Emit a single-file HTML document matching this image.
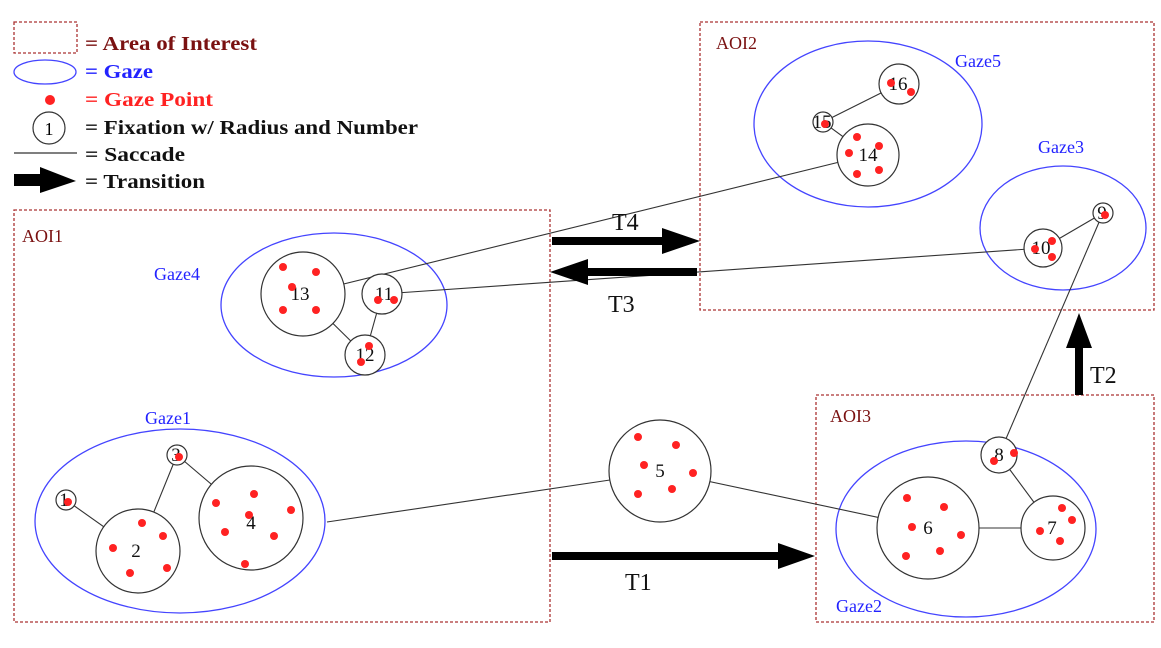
<!DOCTYPE html>
<html><head><style>body{margin:0;background:#fff}svg{display:block}</style></head><body>
<svg width="1161" height="648" viewBox="0 0 1161 648" xmlns="http://www.w3.org/2000/svg" font-family="Liberation Serif, serif">
<g fill="none" stroke="#a33" stroke-width="1.3" stroke-dasharray="3,2">
<rect x="14" y="22" width="63" height="31"/>
<rect x="14" y="210" width="536" height="412"/>
<rect x="700" y="22" width="454" height="288"/>
<rect x="816" y="395" width="338" height="227"/>
</g>
<ellipse cx="45" cy="72" rx="31" ry="12" fill="none" stroke="#44f" stroke-width="1.3"/>
<circle cx="50" cy="100" r="5" fill="#f22"/>
<circle cx="49" cy="128" r="16" fill="none" stroke="#333" stroke-width="1.2"/>
<text x="49" y="135" font-size="18" text-anchor="middle">1</text>
<line x1="14" y1="153" x2="77" y2="153" stroke="#333" stroke-width="1.2"/>
<polygon points="14,174 40,174 40,167 76,181 40,193 40,186 14,186" fill="#000"/>
<g font-size="20" font-weight="bold">
<text x="85" y="50" fill="#7a1111" textLength="172" lengthAdjust="spacingAndGlyphs">= Area of Interest</text>
<text x="85" y="78" fill="#22f" textLength="68" lengthAdjust="spacingAndGlyphs">= Gaze</text>
<text x="85" y="106" fill="#f22" textLength="128" lengthAdjust="spacingAndGlyphs">= Gaze Point</text>
<text x="85" y="134" fill="#111" textLength="333" lengthAdjust="spacingAndGlyphs">= Fixation w/ Radius and Number</text>
<text x="85" y="161" fill="#111" textLength="100" lengthAdjust="spacingAndGlyphs">= Saccade</text>
<text x="85" y="188" fill="#111" textLength="120" lengthAdjust="spacingAndGlyphs">= Transition</text>
</g>
<g font-size="18" fill="#7a1111"><text x="22" y="242">AOI1</text><text x="716" y="49">AOI2</text><text x="830" y="422">AOI3</text></g>
<g font-size="18" fill="#22f"><text x="145" y="424">Gaze1</text><text x="154" y="280">Gaze4</text><text x="955" y="67">Gaze5</text><text x="1038" y="153">Gaze3</text><text x="836" y="612">Gaze2</text></g>
<g fill="none" stroke="#44f" stroke-width="1.3">
<ellipse cx="180" cy="521" rx="145" ry="92"/>
<ellipse cx="334" cy="305" rx="113" ry="72"/>
<ellipse cx="868" cy="124" rx="114" ry="83"/>
<ellipse cx="1063" cy="228" rx="83" ry="62"/>
<ellipse cx="966" cy="529" rx="130" ry="88"/>
</g>
<g stroke="#333" stroke-width="1.1">
<line x1="66" y1="500" x2="138" y2="551"/><line x1="138" y1="551" x2="177" y2="455"/><line x1="177" y1="455" x2="251" y2="518"/>
<line x1="327" y1="522" x2="610" y2="480"/><line x1="660" y1="471" x2="928" y2="528"/><line x1="928" y1="528" x2="1053" y2="528"/>
<line x1="1053" y1="528" x2="999" y2="455"/><line x1="999" y1="455" x2="1103" y2="213"/><line x1="1103" y1="213" x2="1043" y2="248"/>
<line x1="1043" y1="248" x2="382" y2="294"/><line x1="382" y1="294" x2="365" y2="355"/><line x1="365" y1="355" x2="303" y2="294"/>
<line x1="303" y1="294" x2="868" y2="155"/><line x1="868" y1="155" x2="823" y2="122"/><line x1="823" y1="122" x2="899" y2="84"/>
</g>
<g fill="#fff" stroke="#333" stroke-width="1.2">
<circle cx="66" cy="500" r="10"/><circle cx="138" cy="551" r="42"/><circle cx="177" cy="455" r="10"/><circle cx="251" cy="518" r="52"/>
<circle cx="660" cy="471" r="51"/><circle cx="928" cy="528" r="51"/><circle cx="1053" cy="528" r="32"/><circle cx="999" cy="455" r="18"/>
<circle cx="1103" cy="213" r="10"/><circle cx="1043" cy="248" r="19"/><circle cx="303" cy="294" r="42"/><circle cx="382" cy="294" r="20"/>
<circle cx="365" cy="355" r="20"/><circle cx="868" cy="155" r="31"/><circle cx="823" cy="122" r="10"/><circle cx="899" cy="84" r="20"/>
</g>
<g font-size="19" fill="#111" text-anchor="middle">
<text x="64" y="506">1</text><text x="136" y="557">2</text><text x="176" y="461">3</text><text x="251" y="529">4</text>
<text x="660" y="477">5</text><text x="928" y="534">6</text><text x="1052" y="534">7</text><text x="999" y="461">8</text>
<text x="1102" y="219">9</text><text x="1041" y="254">10</text><text x="384" y="300">11</text><text x="365" y="361">12</text>
<text x="300" y="300">13</text><text x="868" y="161">14</text><text x="822" y="128">15</text><text x="898" y="90">16</text>
</g>
<g fill="#f22">
<circle cx="68" cy="502" r="4"/><circle cx="142" cy="523" r="4"/><circle cx="163" cy="536" r="4"/><circle cx="113" cy="548" r="4"/><circle cx="167" cy="568" r="4"/><circle cx="130" cy="573" r="4"/>
<circle cx="179" cy="457" r="4"/>
<circle cx="216" cy="503" r="4"/><circle cx="254" cy="494" r="4"/><circle cx="291" cy="510" r="4"/><circle cx="249" cy="515" r="4"/><circle cx="225" cy="532" r="4"/><circle cx="274" cy="536" r="4"/><circle cx="245" cy="564" r="4"/>
<circle cx="638" cy="437" r="4"/><circle cx="676" cy="445" r="4"/><circle cx="644" cy="465" r="4"/><circle cx="693" cy="473" r="4"/><circle cx="672" cy="489" r="4"/><circle cx="638" cy="494" r="4"/>
<circle cx="907" cy="498" r="4"/><circle cx="944" cy="507" r="4"/><circle cx="912" cy="527" r="4"/><circle cx="961" cy="535" r="4"/><circle cx="940" cy="551" r="4"/><circle cx="906" cy="556" r="4"/>
<circle cx="1062" cy="508" r="4"/><circle cx="1072" cy="520" r="4"/><circle cx="1040" cy="531" r="4"/><circle cx="1060" cy="541" r="4"/>
<circle cx="1014" cy="453" r="4"/><circle cx="994" cy="461" r="4"/>
<circle cx="1105" cy="215" r="4"/><circle cx="1052" cy="241" r="4"/><circle cx="1035" cy="249" r="4"/><circle cx="1052" cy="257" r="4"/>
<circle cx="283" cy="267" r="4"/><circle cx="316" cy="272" r="4"/><circle cx="292" cy="287" r="4"/><circle cx="283" cy="310" r="4"/><circle cx="316" cy="310" r="4"/>
<circle cx="378" cy="300" r="4"/><circle cx="394" cy="300" r="4"/><circle cx="369" cy="346" r="4"/><circle cx="361" cy="362" r="4"/>
<circle cx="857" cy="137" r="4"/><circle cx="879" cy="146" r="4"/><circle cx="849" cy="153" r="4"/><circle cx="857" cy="174" r="4"/><circle cx="879" cy="170" r="4"/>
<circle cx="825" cy="124" r="4"/><circle cx="891" cy="83" r="4"/><circle cx="911" cy="92" r="4"/>
</g>
<g fill="#000">
<polygon points="552,237 662,237 662,228 700,241 662,254 662,245 552,245"/>
<polygon points="697,268 588,268 588,259 550,272 588,285 588,276 697,276"/>
<polygon points="552,552 778,552 778,543 815,556 778,569 778,560 552,560"/>
<polygon points="1075,395 1075,348 1066,348 1079,313 1092,348 1083,348 1083,395"/>
</g>
<g font-size="24" fill="#111"><text x="612" y="230">T4</text><text x="608" y="312">T3</text><text x="625" y="590">T1</text><text x="1090" y="383">T2</text></g>
</svg>
</body></html>
